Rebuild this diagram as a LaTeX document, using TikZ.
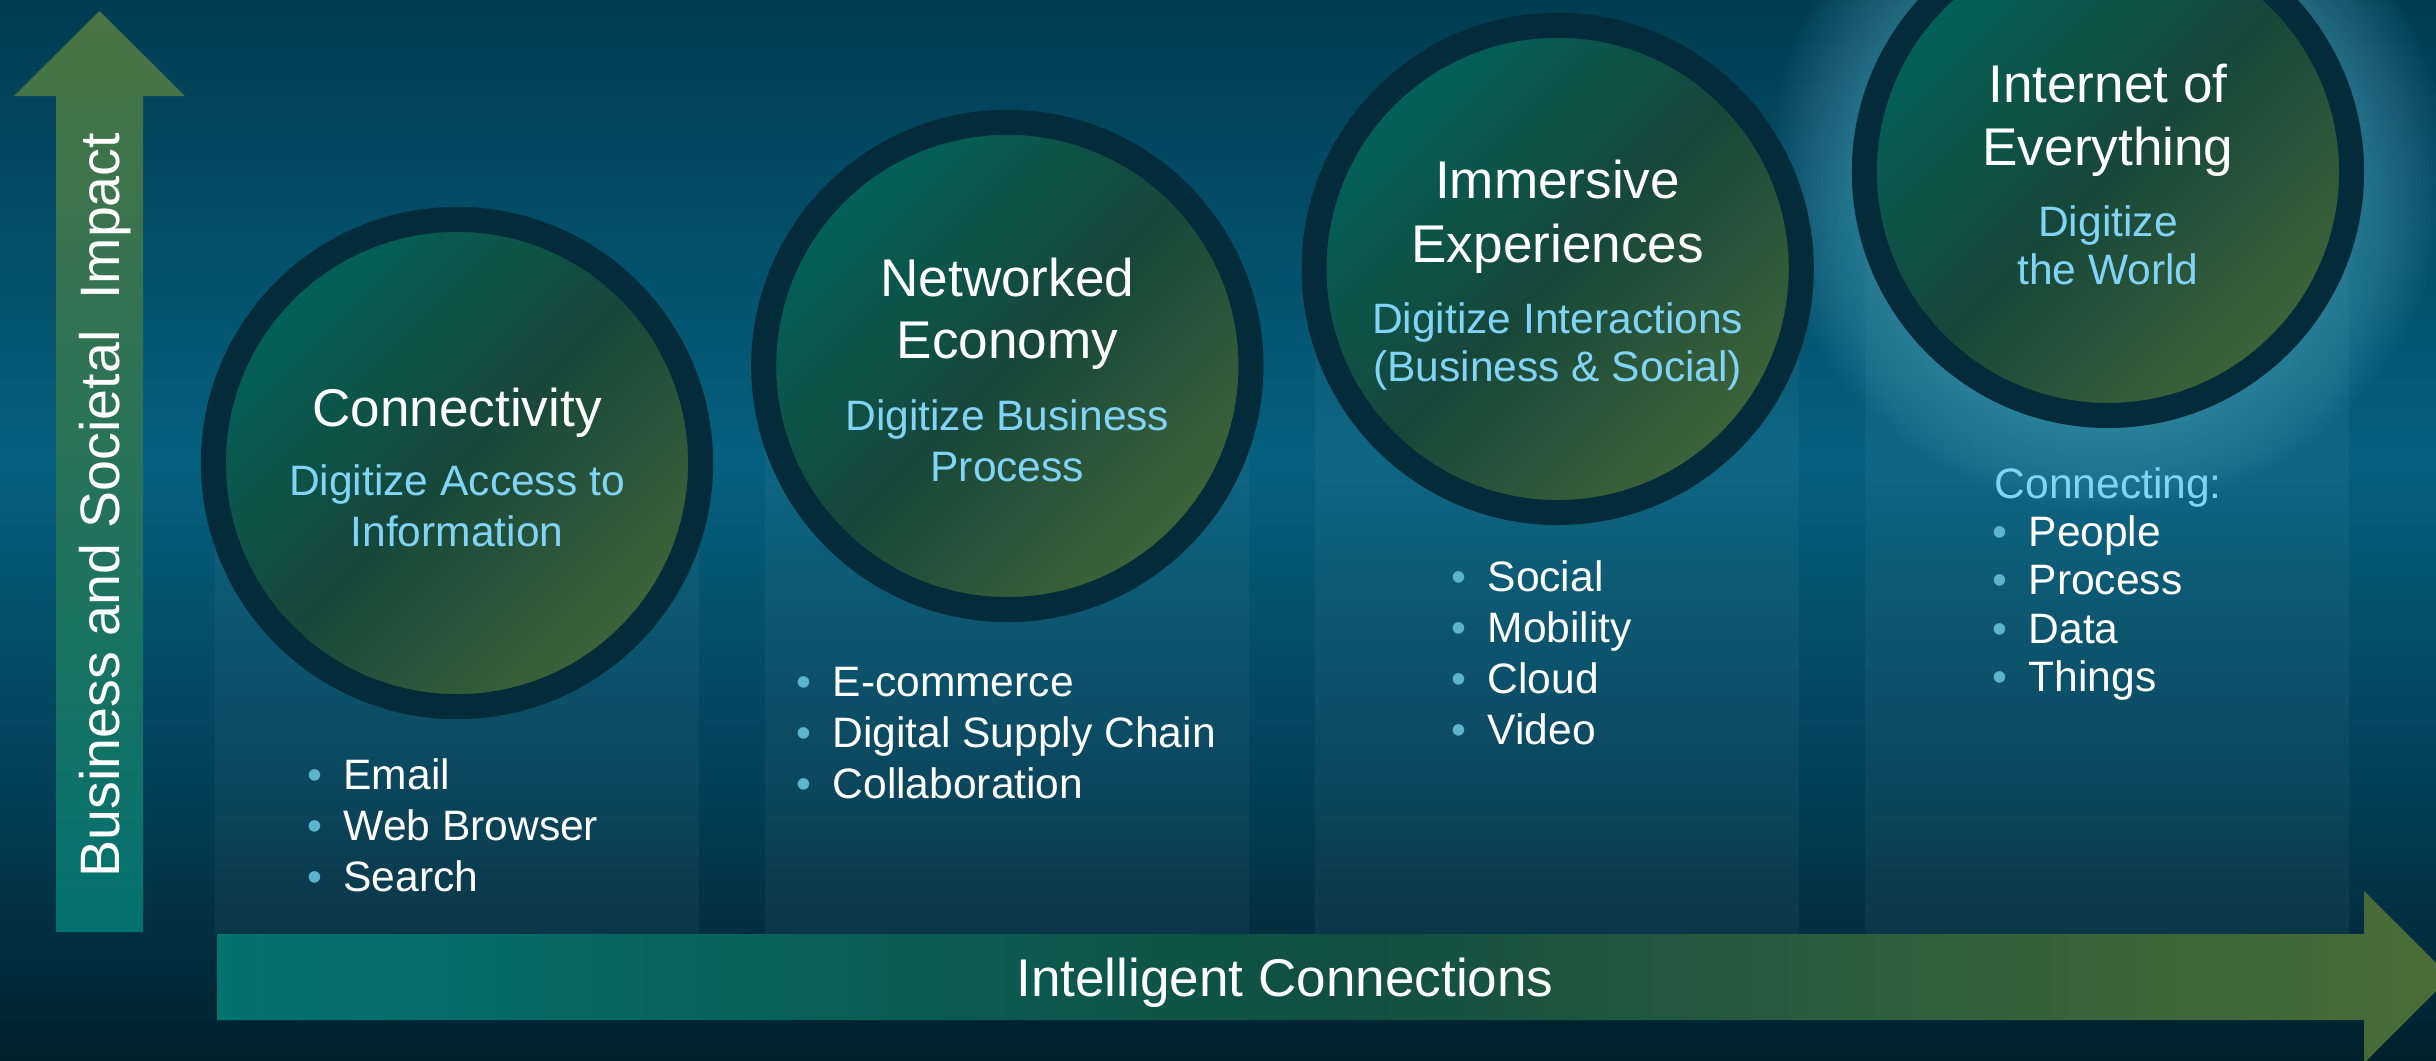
\documentclass[tikz,border=0pt]{standalone}
\usepackage{fontspec}
\setmainfont{Liberation Sans}
\usetikzlibrary{arrows, positioning}

\definecolor{bgtop}{HTML}{013C51}
\definecolor{bgmid}{HTML}{05607F}
\definecolor{bglow}{HTML}{023E55}
\definecolor{bgbot}{HTML}{01202C}
\definecolor{ringc}{HTML}{032B3A}
\definecolor{cteal}{HTML}{02625A}
\definecolor{cdark}{HTML}{17473A}
\definecolor{colive}{HTML}{3E6439}
\definecolor{subc}{HTML}{82D4F6}
\definecolor{dotc}{HTML}{5BB5CC}
\definecolor{ateal}{HTML}{037270}
\definecolor{aolive}{HTML}{4A7444}
\definecolor{hteal}{HTML}{037370}
\definecolor{hmid}{HTML}{104F42}
\definecolor{holive}{HTML}{4C6D37}
\definecolor{glowc}{HTML}{6CC4DC}

\newcommand{\bul}{\textcolor{dotc}{\textbullet}\hspace{0.21cm}}

\begin{document}
\begin{tikzpicture}[x=0.01cm, y=-0.01cm, node distance=5.5cm,
    stage/.style={circle, draw=ringc, line width=0.25cm, minimum size=4.87cm, inner sep=0pt,
      top color=cteal, bottom color=colive, middle color=cdark, shading angle=45},
    ttl/.style={text=white, inner sep=0pt, anchor=base, font=\fontsize{15.1}{18}\selectfont},
    sub/.style={text=subc, inner sep=0pt, anchor=base, font=\fontsize{12.1}{14.5}\selectfont},
    item/.style={text=white, inner sep=0pt, anchor=base west, font=\fontsize{12.1}{14.5}\selectfont}]

    \useasboundingbox (0,0) rectangle (2436,1060);
    \clip (0,0) rectangle (2436,1060);

    %background
    \shade[top color=bgtop, bottom color=bgmid] (0,0) rectangle (2436,461);
    \shade[top color=bgmid, bottom color=bglow] (0,460) rectangle (2436,801);
    \shade[top color=bglow, bottom color=bgbot] (0,800) rectangle (2436,1060);

    %columns behind the stages
    \foreach \x/\y in {457/463, 1007/366, 1557/269, 2107/172}
      \fill[white, fill opacity=0.04] (\x-242,\y) rectangle (\x+242,934);

    %glow of the last stage
    \foreach \r in {258,262,...,338}
      \fill[glowc, fill opacity=0.025] (2107,172) circle (\r);

    %the two axes
    \shade[top color=aolive, bottom color=ateal] (56,932) -- (56,96) -- (14,96) -- (99.5,11)
      -- (185,96) -- (143,96) -- (143,932) -- cycle;
    \shade[left color=hteal, right color=holive, middle color=hmid] (217,934) -- (2364,934)
      -- (2364,891) -- (2450,977) -- (2364,1063) -- (2364,1020) -- (217,1020) -- cycle;
    \node[ttl, rotate=90, font=\fontsize{15.8}{19}\selectfont] (impact) at (119,505) {Business and Societal~~Impact};
    \node[ttl] (intel) at (1285,996) {Intelligent Connections};

    %define the stages
    \node[stage] (c1) at (457,463) {};
    \node[stage, right of=c1, yshift=0.97cm] (c2) {};
    \node[stage, right of=c2, yshift=0.97cm] (c3) {};
    \node[stage, right of=c3, yshift=0.97cm] (c4) {};

    %texts in the stages
    \node[ttl] (c1a) at ([yshift=0.36cm]c1) {Connectivity};
    \node[sub] (c1b) at ([yshift=-0.32cm]c1) {Digitize Access to};
    \node[sub] (c1c) at ([yshift=-0.83cm]c1) {Information};

    \node[ttl] (c2a) at ([yshift=0.69cm]c2) {Networked};
    \node[ttl] (c2b) at ([yshift=0.07cm]c2) {Economy};
    \node[sub] (c2c) at ([yshift=-0.65cm]c2) {Digitize Business};
    \node[sub] (c2d) at ([yshift=-1.15cm]c2) {Process};

    \node[ttl] (c3a) at ([yshift=0.70cm]c3) {Immersive};
    \node[ttl] (c3b) at ([yshift=0.06cm]c3) {Experiences};
    \node[sub] (c3c) at ([yshift=-0.65cm]c3) {Digitize Interactions};
    \node[sub] (c3d) at ([yshift=-1.13cm]c3) {(Business \& Social)};

    \node[ttl] (c4a) at ([yshift=0.69cm]c4) {Internet of};
    \node[ttl] (c4b) at ([yshift=0.06cm]c4) {Everything};
    \node[sub] (c4c) at ([yshift=-0.65cm]c4) {Digitize};
    \node[sub] (c4d) at ([yshift=-1.13cm]c4) {the World};

    %lists under the stages
    \foreach \t [count=\i] in {Email, Web Browser, Search}
      \node[item] (l1\i) at (307,{789+51*(\i-1)}) {\bul\t};
    \foreach \t [count=\i] in {E-commerce, Digital Supply Chain, Collaboration}
      \node[item] (l2\i) at (796,{696+51*(\i-1)}) {\bul\t};
    \foreach \t [count=\i] in {Social, Mobility, Cloud, Video}
      \node[item] (l3\i) at (1451,{591+51*(\i-1)}) {\bul\t};
    \node[item, text=subc] (l40) at (1994,498) {Connecting:};
    \foreach \t [count=\i] in {People, Process, Data, Things}
      \node[item] (l4\i) at (1992,{546+48.5*(\i-1)}) {\bul\t};
  \end{tikzpicture}
\end{document}
